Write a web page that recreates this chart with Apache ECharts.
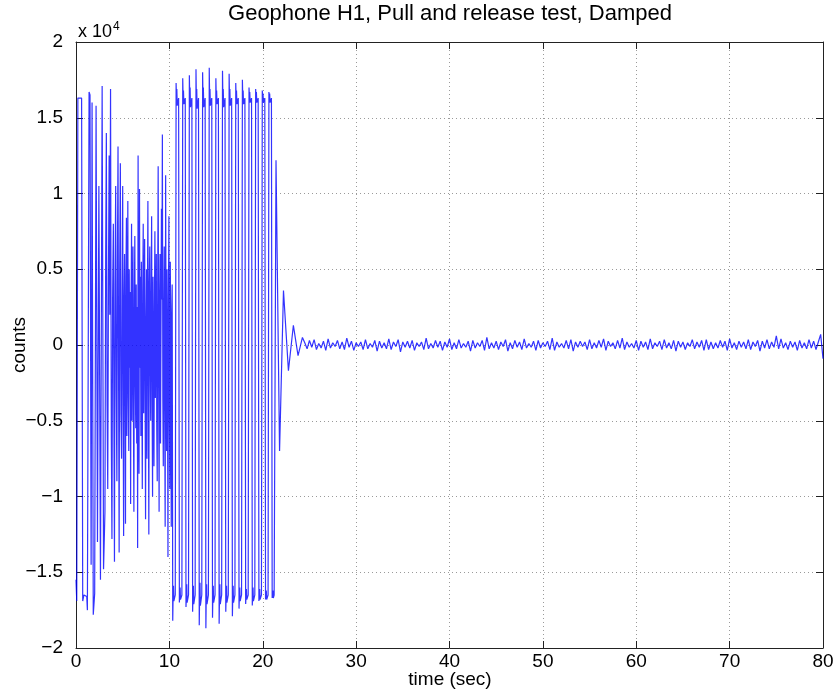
<!DOCTYPE html>
<html>
<head>
<meta charset="utf-8">
<title>Geophone H1</title>
<script src="https://cdn.jsdelivr.net/npm/echarts@6/dist/echarts.min.js"></script>
<style>
  html, body { margin: 0; padding: 0; background: #fff; }
  #main { width: 836px; height: 692px; }
</style>
</head>
<body>
<div id="main"></div>
<script>
// time (sec), counts — free swinging after the pull
const freeSwing = [
  [0.00, -15500], [0.08, -16900], [0.20, 16300], [0.60, 16300], [0.72, -16900],
  [0.85, -16500], [1.15, -16600], [1.22, -17500], [1.40, 16700], [1.50, 16500],
  [1.62, -14500], [1.72, 16000], [1.85, -17800], [2.00, -16400], [2.15, 15800],
  [2.30, -13000], [2.45, 10500], [2.62, -15500], [2.80, 17100], [2.95, -14800],
  [3.10, -11000], [3.18, 6000], [3.25, 14000], [3.33, -4000], [3.40, -9500],
  [3.48, 5000], [3.55, 12500], [3.62, 2000], [3.70, 16900], [3.78, -6000],
  [3.85, -12800], [3.92, 3000], [4.00, 8000], [4.06, -5000], [4.12, -14300],
  [4.18, 4000], [4.25, 10500], [4.31, -3000], [4.38, -9000], [4.44, 6000],
  [4.50, 13100], [4.56, -2000], [4.62, -13700], [4.68, 5000], [4.75, 12000],
  [4.81, -4500], [4.88, -7500], [4.94, 3500],
  [5.00, 10500], [5.05, -4000], [5.10, -12600], [5.15, 3000], [5.20, 6000],
  [5.25, -2500], [5.30, -11800], [5.35, 4500], [5.40, 8400], [5.45, -6000],
  [5.50, 2000], [5.55, 9500], [5.60, -3500], [5.65, -7000], [5.70, 5000],
  [5.75, -1500], [5.80, 3500], [5.85, -10500], [5.90, 2500], [5.95, 8000],
  [6.00, -5000], [6.05, 1000], [6.10, 6500], [6.15, -4500], [6.20, -11000],
  [6.25, 3000], [6.30, 7200], [6.35, -2000], [6.40, -5500], [6.45, 4000],
  [6.50, -6500], [6.55, 2500], [6.60, -13400], [6.65, 12500], [6.70, -3000],
  [6.75, -8500], [6.80, 10300], [6.85, -1500], [6.90, 4500], [6.95, -6000],
  [7.00, 5500], [7.05, -2500], [7.10, -9500], [7.15, 3500], [7.20, 8000],
  [7.25, -4500], [7.30, 2000], [7.35, 7000], [7.40, -3000], [7.45, -11500],
  [7.50, 1500], [7.55, 5000], [7.60, -7500], [7.65, 3000], [7.70, 9500],
  [7.75, -2000], [7.80, -12500], [7.85, 4000], [7.90, 6500], [7.95, -1000],
  [8.00, -5000], [8.05, 3500], [8.10, 8500], [8.15, -3500], [8.20, -10000],
  [8.25, 4500], [8.30, -1500], [8.35, -8000], [8.40, 2500], [8.45, 7500],
  [8.50, -3500], [8.55, 1500], [8.60, 6000], [8.65, -5500], [8.70, -9000],
  [8.75, 4000], [8.80, 11800], [8.85, -2000], [8.90, -11000], [8.95, 3000],
  [9.00, 6000], [9.05, -6500], [9.10, 1000], [9.15, 9000], [9.20, 3000],
  [9.25, 13900], [9.30, -3500], [9.35, -8000], [9.40, 2000], [9.45, 6500],
  [9.50, -4500], [9.55, -12000], [9.60, 11200], [9.65, -1000], [9.70, -7000],
  [9.75, 5000], [9.80, -2500], [9.85, -14000], [9.90, 3000], [9.95, 8500],
  [10.00, -4000], [10.05, -9500], [10.10, 5500], [10.15, -1500], [10.20, -12000],
  [10.25, 2000], [10.30, 4000]
];

// clipped swing (amplifier saturates near +-1.65e4)
const clipped = [
  [10.36, -18200], [10.40, -16500], [10.44, -15900], [10.48, -16900], [10.63, -16500],
  [10.72, 17300], [10.76, 16300], [10.80, 16900], [10.84, 15800], [10.99, 16300],
  [11.07, -17000], [11.11, -16500], [11.15, -16000], [11.19, -16800], [11.34, -16500],
  [11.43, 17600], [11.47, 16300], [11.51, 16800], [11.55, 15900], [11.70, 16300],
  [11.78, -17300], [11.82, -16500], [11.86, -15800], [11.90, -17000], [12.05, -16500],
  [12.14, 17800], [12.18, 16300], [12.22, 17000], [12.26, 15700], [12.41, 16300],
  [12.49, -17600], [12.53, -16500], [12.57, -15900], [12.61, -17100], [12.76, -16500],
  [12.85, 18200], [12.89, 16300], [12.93, 16900], [12.97, 15600], [13.12, 16300],
  [13.20, -18500], [13.24, -16500], [13.28, -15700], [13.32, -17200], [13.47, -16500],
  [13.56, 18000], [13.60, 16300], [13.64, 17000], [13.68, 15700], [13.83, 16300],
  [13.91, -18700], [13.95, -16500], [13.99, -15800], [14.03, -17100], [14.18, -16500],
  [14.27, 18300], [14.31, 16300], [14.35, 16900], [14.39, 15800], [14.54, 16300],
  [14.62, -18000], [14.66, -16500], [14.70, -15900], [14.74, -17000], [14.89, -16500],
  [14.98, 17600], [15.02, 16300], [15.06, 16800], [15.10, 15900], [15.25, 16300],
  [15.33, -18400], [15.37, -16500], [15.41, -15800], [15.45, -17100], [15.60, -16500],
  [15.69, 18100], [15.73, 16300], [15.77, 16900], [15.81, 15700], [15.96, 16300],
  [16.04, -17600], [16.08, -16500], [16.12, -15900], [16.16, -17000], [16.31, -16500],
  [16.40, 17900], [16.44, 16300], [16.48, 16900], [16.52, 15800], [16.67, 16300],
  [16.75, -17900], [16.79, -16500], [16.83, -15900], [16.87, -17000], [17.02, -16500],
  [17.11, 17300], [17.15, 16300], [17.19, 16800], [17.23, 15900], [17.38, 16300],
  [17.46, -17400], [17.50, -16500], [17.54, -16000], [17.58, -16900], [17.73, -16500],
  [17.82, 17500], [17.86, 16300], [17.90, 16800], [17.94, 15900], [18.09, 16300],
  [18.17, -17100], [18.21, -16500], [18.25, -16100], [18.29, -16800], [18.44, -16500],
  [18.53, 17000], [18.57, 16300], [18.61, 16700], [18.65, 16000], [18.80, 16300],
  [18.88, -17200], [18.92, -16500], [18.96, -16000], [19.00, -16900], [19.15, -16500],
  [19.24, 16900], [19.28, 16300], [19.32, 16700], [19.36, 16000], [19.51, 16300],
  [19.59, -16900], [19.63, -16500], [19.67, -16100], [19.71, -16800], [19.86, -16500],
  [19.95, 16800], [19.99, 16300], [20.03, 16600], [20.07, 16000], [20.22, 16300],
  [20.30, -16800], [20.34, -16500], [20.38, -16200], [20.42, -16800], [20.57, -16500],
  [20.66, 16700], [20.70, 16300], [20.74, 16600], [20.78, 16000], [20.93, 16300],
  [21.01, -16700], [21.05, -16500], [21.09, -16200], [21.13, -16700], [21.22, -16500]
];

// release, damped ring-down
const release = [
  [21.42, 12200], [21.80, -7000], [22.22, 3600], [22.75, -1700],
  [23.28, 1300], [23.78, -700], [24.25, 500]
];

// background after damping, one sample every noiseStep seconds
const noiseStart = 24.5;
const noiseStep = 0.25;
const noiseCounts = [
  150, -250, 300, -150, 350, -300, 100, -200, 250, -350, 400, -200, 150, -100, 300, -250, 200, -300, 450, -150,
  250, -350, 150, -100, 200, -300, 350, -250, 100, -150, 300, -400, 250, -200, 150, -250, 400, -300, 200, -100,
  350, -450, 200, -150, 250, -200, 300, -350, 150, -100, 200, -300, 450, -250, 100, -200, 300, -150, 250, -350,
  200, -150, 400, -300, 150, -250, 350, -200, 100, -150, 250, -400, 300, -200, 150, -100, 300, -350, 500, -250,
  150, -200, 250, -300, 200, -100, 350, -400, 150, -250, 300, -150, 200, -300, 400, -200, 100, -150, 250, -350,
  300, -200, 150, -100, 250, -300, 450, -350, 200, -150, 100, -200, 300, -250, 350, -400, 200, -150, 250, -100,
  200, -300, 350, -250, 150, -200, 300, -150, 400, -350, 250, -100, 150, -250, 300, -200, 450, -300, 200, -150,
  100, -200, 300, -350, 250, -150, 200, -300, 400, -250, 150, -100, 250, -300, 350, -200, 150, -250, 300, -400,
  250, -150, 200, -300, 150, -100, 350, -250, 200, -150, 300, -350, 350, -300, 200, -250, 150, -200, 300, -150,
  250, -350, 400, -200, 150, -300, 250, -150, 200, -250, 350, -300, 200, -100, 300, -400, 250, -200, 350, -250,
  200, -150, 600, -250, 400, -200, 150, -300, 250, -150, 200, -350, 300, -200, 150, -250, 350, -200, 250, -300,
  200, 700, -900
];

const xTicks = [0, 80, 10];
const yTicks = [-20000, 20000, 5000];

const FONT = 'Liberation Sans, Arial, Helvetica, sans-serif';

function fmtY(v) {
  if (v === 0) return '0';
  return String(v / 10000).replace('-', '\u2212');
}

const noisePairs = noiseCounts.map((v, i) => [noiseStart + i * noiseStep, v]);
const seriesData = freeSwing.concat(clipped, release, noisePairs);

const axisLine = { show: true, onZero: false, lineStyle: { color: '#222', width: 1 } };
const axisTick = { show: true, inside: true, length: 7, lineStyle: { color: '#222' } };
const gridLine = { show: true, lineStyle: { color: '#9a9a9a', width: 1, type: [1, 3] } };

const option = {
  animation: false,
  backgroundColor: '#fff',
  grid: { left: 76, right: 13, top: 42, bottom: 44, containLabel: false, outerBoundsMode: 'none' },
  graphic: [
    {
      type: 'text', x: 450, y: 14,
      style: {
        text: 'Geophone H1, Pull and release test, Damped',
        font: '22px ' + FONT, fill: '#000', align: 'center', verticalAlign: 'middle'
      }
    },
    {
      type: 'text', x: 78, y: 32,
      style: {
        text: 'x 10{s|4}', font: '18px ' + FONT, fill: '#000',
        align: 'left', verticalAlign: 'middle',
        rich: { s: { fontSize: 12, fontFamily: FONT, verticalAlign: 'top', padding: [0, 0, 10, 1] } }
      }
    },
    {
      type: 'text', x: 450, y: 680,
      style: {
        text: 'time (sec)', font: '19px ' + FONT, fill: '#000',
        align: 'center', verticalAlign: 'middle'
      }
    },
    {
      type: 'text', x: 20, y: 345, rotation: Math.PI / 2,
      style: {
        text: 'counts', font: '19px ' + FONT, fill: '#000',
        align: 'center', verticalAlign: 'middle'
      }
    }
  ],
  xAxis: [
    {
      type: 'value', position: 'bottom', min: xTicks[0], max: xTicks[1], interval: xTicks[2],
      axisLine: axisLine, axisTick: axisTick, splitLine: gridLine,
      axisLabel: { color: '#000', fontSize: 19, fontFamily: FONT, margin: 4 }
    },
    {
      type: 'value', position: 'top', min: xTicks[0], max: xTicks[1], interval: xTicks[2],
      axisLine: axisLine, axisTick: axisTick, splitLine: { show: false },
      axisLabel: { show: false }
    }
  ],
  yAxis: [
    {
      type: 'value', position: 'left', min: yTicks[0], max: yTicks[1], interval: yTicks[2],
      axisLine: axisLine, axisTick: axisTick, splitLine: gridLine,
      axisLabel: { color: '#000', fontSize: 19, fontFamily: FONT, margin: 13, formatter: fmtY }
    },
    {
      type: 'value', position: 'right', min: yTicks[0], max: yTicks[1], interval: yTicks[2],
      axisLine: axisLine, axisTick: axisTick, splitLine: { show: false },
      axisLabel: { show: false }
    }
  ],
  series: [
    {
      type: 'line',
      xAxisIndex: 0,
      yAxisIndex: 0,
      data: seriesData,
      showSymbol: false,
      symbol: 'none',
      clip: true,
      lineStyle: { color: '#0000ff', width: 1.2, opacity: 0.8 }
    }
  ]
};

function init() {
  const chart = echarts.init(document.getElementById('main'), null, { renderer: 'canvas' });
  chart.setOption(option);
}

init();
</script>
</body>
</html>
